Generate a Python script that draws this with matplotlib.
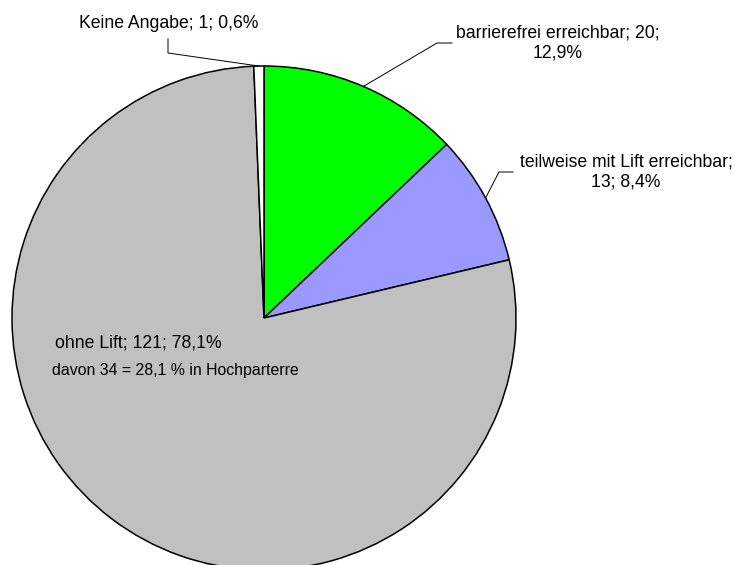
import numpy as np
import matplotlib.pyplot as plt

plt.rcParams['font.family'] = ['Liberation Sans', 'DejaVu Sans']

# data
categories = ["barrierefrei erreichbar", "teilweise mit Lift erreichbar", "ohne Lift", "Keine Angabe"]
counts = [20, 13, 121, 1]
colors = ["#00FF00", "#9999FF", "#C0C0C0", "#FFFFFF"]
extra_note = "davon 34 = 28,1 % in Hochparterre"

W, H = 735, 565
total = sum(counts)
pcts = [c / total * 100 for c in counts]


def fmt(p):
    return f"{p:.1f}".replace(".", ",") + "%"


fig = plt.figure(figsize=(W / 100, H / 100), dpi=100)
ax = fig.add_axes([0, 0, 1, 1])

cx, cy, r = 264, H - 318, 252
wedges, _ = ax.pie(counts, colors=colors, startangle=90, counterclock=False,
                   center=(cx, cy), radius=r,
                   wedgeprops=dict(edgecolor="black", linewidth=1.1))
ax.set_xlim(0, W)
ax.set_ylim(0, H)
ax.set_aspect("equal", adjustable="box")
ax.axis("off")


def edge_point(w):
    a = np.deg2rad((w.theta1 + w.theta2) / 2)
    return cx + r * np.cos(a), cy + r * np.sin(a)


fs = 12.7
# label texts
lab0 = f"{categories[0]}; {counts[0]};\n{fmt(pcts[0])}"
lab1 = f"{categories[1]};\n{counts[1]}; {fmt(pcts[1])}"
lab2 = f"{categories[2]}; {counts[2]}; {fmt(pcts[2])}"
lab3 = f"{categories[3]}; {counts[3]}; {fmt(pcts[3])}"

ax.text(558, H - 43, lab0, ha="center", va="center", fontsize=fs, linespacing=1.3)
ax.text(626, H - 172, lab1, ha="center", va="center", fontsize=fs, linespacing=1.3)
ax.text(55, H - 343, lab2, ha="left", va="center", fontsize=fs)
ax.text(52, H - 370, extra_note, ha="left", va="center", fontsize=11.4)
ax.text(168.5, H - 23, lab3, ha="center", va="center", fontsize=fs)

# leader lines
lk = dict(color="black", lw=0.7)
x0, y0 = edge_point(wedges[0])
ax.plot([x0, 437, 452], [y0, H - 43, H - 43], **lk)
x1, y1 = edge_point(wedges[1])
ax.plot([x1, 499, 513], [y1, H - 172, H - 172], **lk)
x3, y3 = edge_point(wedges[3])
ax.plot([x3, 168, 168], [y3, H - 53, H - 39], **lk)

fig.savefig("out.png", dpi=100)
